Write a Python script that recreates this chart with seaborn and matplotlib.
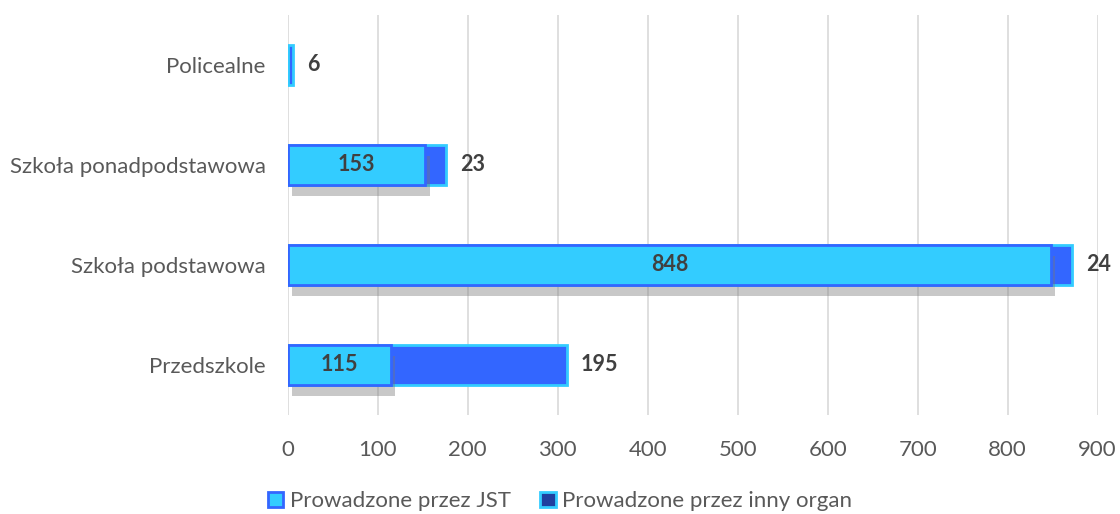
import numpy as np
import pandas as pd
import matplotlib
matplotlib.use("Agg")
import matplotlib.pyplot as plt
import matplotlib.patheffects as pe
from matplotlib.patches import Patch
import seaborn as sns

# data
categories = ["Policealne", "Szkoła ponadpodstawowa", "Szkoła podstawowa", "Przedszkole"]
jst = [0, 153, 848, 115]
other = [6, 23, 24, 195]
series_names = ["Prowadzone przez JST", "Prowadzone przez inny organ"]
xticks = [0, 100, 200, 300, 400, 500, 600, 700, 800, 900]

light = "#33CCFF"
dark = "#3366FF"

sns.set_style("white")
plt.rcParams["font.family"] = ["Lato", "DejaVu Sans"]

df = pd.DataFrame({"cat": categories, "jst": jst, "other": other})
df["total"] = df["jst"] + df["other"]

fig = plt.figure(figsize=(11.2, 5.14), dpi=100)
ax = fig.add_axes([0.257, 0.193, 0.723, 0.778])

shadow = [pe.SimplePatchShadow(offset=(3, -8), shadow_rgbFace="#777777", alpha=0.4), pe.Normal()]

# total bars first (other organ), then JST on top -> stacked look
sns.barplot(data=df, y="cat", x="total", orient="h", color=dark, width=0.4,
            edgecolor=light, linewidth=2, saturation=1, ax=ax, zorder=3)
sns.barplot(data=df, y="cat", x="jst", orient="h", color=light, width=0.4,
            edgecolor=dark, linewidth=2, saturation=1, ax=ax, zorder=4)

n = len(categories)
for p in ax.patches[n:2 * n]:
    if p.get_width() == 0:
        p.set_linewidth(0)
    else:
        p.set_path_effects(shadow)

# labels
for i, row in df.iterrows():
    if row["jst"] > 0:
        ax.text(row["jst"] / 2, i, str(row["jst"]), ha="center", va="center",
                fontsize=15.5, fontweight="bold", color="#404040", zorder=6)
    ax.annotate(str(row["other"]), xy=(row["total"], i), xytext=(10, 0),
                textcoords="offset points", ha="left", va="center",
                fontsize=15.5, fontweight="bold", color="#404040", zorder=6)

ax.set_xlim(0, 900)
ax.set_ylim(3.5, -0.5)
ax.set_xticks(xticks)
ax.set_xticklabels([str(t) for t in xticks])
ax.xaxis.grid(True, color="#D9D9D9", linewidth=1.2, zorder=0)
ax.set_axisbelow(True)
ax.set_xlabel("")
ax.set_ylabel("")
for s in ax.spines.values():
    s.set_visible(False)
ax.tick_params(axis="both", length=0, labelsize=16, labelcolor="#595959")
ax.tick_params(axis="y", pad=16)
ax.tick_params(axis="x", pad=18)

handles = [Patch(facecolor=light, edgecolor=dark, linewidth=2, label=series_names[0]),
           Patch(facecolor="#1F3F9F", edgecolor=light, linewidth=2, label=series_names[1])]
fig.legend(handles=handles, loc="center", bbox_to_anchor=(0.5, 0.025), ncol=2,
           frameon=False, fontsize=16, handlelength=0.7, handleheight=0.7,
           handletextpad=0.3, columnspacing=1.3, labelcolor="#595959")

fig.savefig("out.png", dpi=100)
